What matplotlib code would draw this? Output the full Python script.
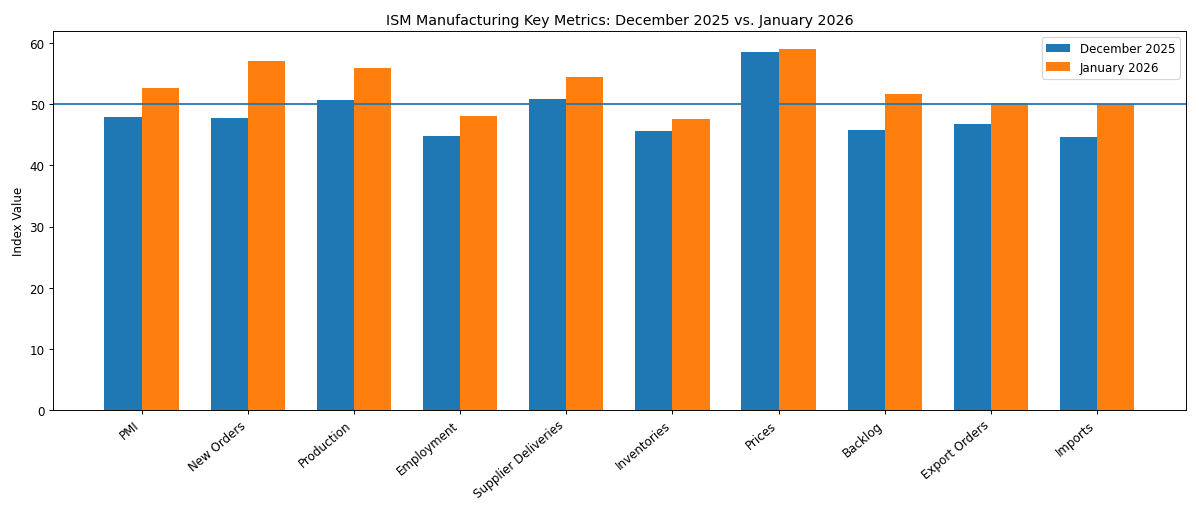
from matplotlib import pyplot as plt
import numpy as np

metrics = ["PMI", "New Orders", "Production", "Employment", "Supplier Deliveries",
           "Inventories", "Prices", "Backlog", "Export Orders", "Imports"]
dec_2025 = [47.9, 47.7, 50.7, 44.8, 50.8, 45.7, 58.5, 45.8, 46.8, 44.6]
jan_2026 = [52.6, 57.1, 55.9, 48.1, 54.4, 47.6, 59.0, 51.6, 50.2, 50.0]

x = np.arange(len(metrics))
width = 0.35

fig, ax = plt.subplots(figsize=(14, 6), dpi=1199 / 14)
ax.bar(x - width / 2, dec_2025, width, label="December 2025")
ax.bar(x + width / 2, jan_2026, width, label="January 2026")
ax.axhline(50)

ax.set_xticks(x)
ax.set_xticklabels(metrics, rotation=40, ha="right")
ax.set_ylabel("Index Value")
ax.set_title("ISM Manufacturing Key Metrics: December 2025 vs. January 2026")
ax.legend()

plt.subplots_adjust(left=0.0442, right=0.989, top=0.9377, bottom=0.2004)
plt.savefig("out.png")
